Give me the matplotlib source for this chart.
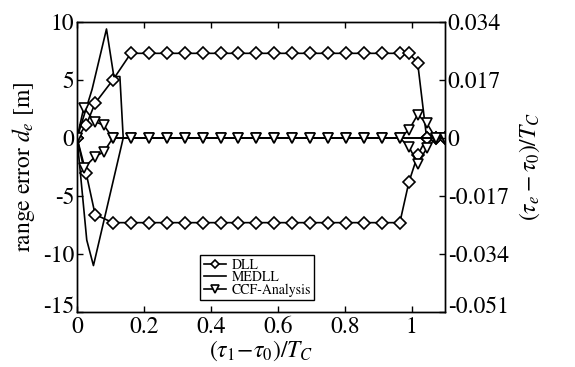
import matplotlib
matplotlib.use('Agg')
import matplotlib.pyplot as plt
import matplotlib.transforms as mtrans
import numpy as np

# 数据: 横轴为 (tau1 - tau0)/Tc, 纵轴为距离误差 d_e [m]
h = 0.0536
x_flat = [3 * h + k * h for k in range(16)]  # 中间平坦段

# DLL 上支路 / 下支路
dll_up_x = [0, 0.027, 0.054, 0.107] + x_flat + [0.992, 1.018, 1.045, 1.072, 1.099]
dll_up_y = [0, 1.1, 3.0, 5.0] + [7.3] * 16 + [7.3, 6.5, 0, 0, 0]
dll_lo_x = [0, 0.027, 0.054, 0.107] + x_flat + [0.992, 1.018, 1.045, 1.072, 1.099]
dll_lo_y = [0, -3.0, -6.6, -7.3] + [-7.3] * 16 + [-3.8, -1.5, 0, 0, 0]

# MEDLL 上支路 / 下支路
medll_up_x = [0, 0.045, 0.088, 0.11, 0.128, 0.138, 1.099]
medll_up_y = [0, 4.2, 9.4, 5.3, 5.3, 0, 0]
medll_lo_x = [0, 0.029, 0.049, 0.138, 1.099]
medll_lo_y = [0, -8.8, -11.0, 0, 0]

# CCF-Analysis 上支路 / 下支路
ccf_up_x = [0, 0.02, 0.054, 0.080, 0.107] + x_flat + [0.992, 1.018, 1.045, 1.072, 1.099]
ccf_up_y = [0, 2.6, 1.4, 1.1, 0] + [0] * 16 + [0.7, 2.0, 1.3, 0, 0]
ccf_lo_x = [0, 0.02, 0.054, 0.080, 0.107] + x_flat + [0.992, 1.018, 1.045, 1.072, 1.099]
ccf_lo_y = [0, -2.6, -1.6, -1.2, 0] + [0] * 16 + [-0.75, -2.2, -0.9, 0, 0]

left_ticks = [-15, -10, -5, 0, 5, 10]
right_ticks = [-0.051, -0.034, -0.017, 0, 0.017, 0.034]
right_labels = ['-0.051', '-0.034', '-0.017', '0', '0.017', '0.034']
x_ticks = [0, 0.2, 0.4, 0.6, 0.8, 1.0]
x_labels = ['0', '0.2', '0.4', '0.6', '0.8', '1']

plt.rcParams['font.family'] = ['STIXGeneral', 'DejaVu Serif']
plt.rcParams['mathtext.fontset'] = 'stix'
plt.rcParams['axes.unicode_minus'] = False
plt.rcParams['xtick.direction'] = 'in'
plt.rcParams['ytick.direction'] = 'in'

fig = plt.figure(figsize=(5.75, 3.67), dpi=100)
ax = fig.add_axes([0.134, 0.150, 0.640, 0.790])

mk = dict(color='black', lw=1.2, mfc='white', mec='black', mew=1.2)
ax.plot(dll_up_x, dll_up_y, marker='D', ms=6, label='DLL', **mk)
ax.plot(dll_lo_x, dll_lo_y, marker='D', ms=6, **mk)
ax.plot(medll_up_x, medll_up_y, color='black', lw=1.2, label='MEDLL')
ax.plot(medll_lo_x, medll_lo_y, color='black', lw=1.2)
ax.plot(ccf_up_x, ccf_up_y, marker='v', ms=7, label='CCF-Analysis', **mk)
ax.plot(ccf_lo_x, ccf_lo_y, marker='v', ms=7, **mk)

ax.set_xlim(0, 1.1)
ax.set_ylim(-15, 10)
ax.set_xticks(x_ticks)
ax.set_xticklabels(x_labels)
ax.set_yticks(left_ticks)
ax.tick_params(labelsize=17, top=True, length=4, width=1, pad=2)
ax.tick_params(axis='x', pad=3)
ax.set_xlabel(r'$(\tau_1\!-\!\tau_0)/T_C$', fontsize=17, labelpad=1)
ax.set_ylabel(r'range error $d_e$ [m]', fontsize=17, labelpad=4)

ax2 = ax.twinx()
ax2.set_ylim(-0.051, 0.034)
ax2.set_yticks(right_ticks)
ax2.set_yticklabels(right_labels)
ax2.tick_params(labelsize=17, length=4, width=1, direction='in', pad=2)
ax2.set_ylabel(r'$(\tau_e-\tau_0)/T_C$', fontsize=17, labelpad=6)

leg = ax.legend(loc='lower center', bbox_to_anchor=(0.49, 0.04), fontsize=10,
                frameon=True, fancybox=False, edgecolor='black', framealpha=1,
                borderpad=0.25, labelspacing=-0.05, handlelength=1.6, handletextpad=0.4,
                borderaxespad=0, markerscale=0.75)
leg.get_frame().set_linewidth(1.0)

for a in (ax, ax2):
    for s in a.spines.values():
        s.set_linewidth(1.0)

# 最下方的刻度标签稍微上移, 避免与横轴的 "0" 重叠
shift = mtrans.ScaledTranslation(0, 5 / 72, fig.dpi_scale_trans)
for lab in (ax.get_yticklabels()[0], ax2.get_yticklabels()[0]):
    lab.set_transform(lab.get_transform() + shift)

fig.savefig('out.png', dpi=100)
